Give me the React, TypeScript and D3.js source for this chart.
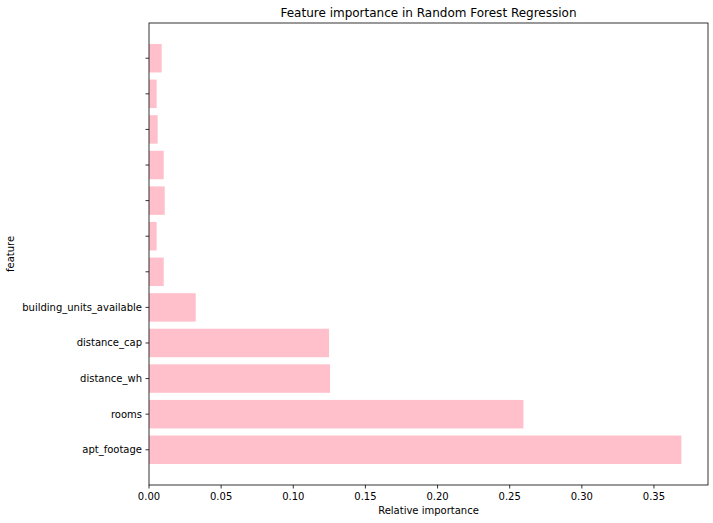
import React from "react";
import * as d3 from "d3";

const features: string[] = [
  "apt_footage",
  "rooms",
  "distance_wh",
  "distance_cap",
  "building_units_available",
  "",
  "",
  "",
  "",
  "",
  "",
  "",
];
const importances: number[] = [
  0.369, 0.2595, 0.1255, 0.1248, 0.0324, 0.0102, 0.0053, 0.0109, 0.0102, 0.006,
  0.0053, 0.0088,
];
const xTicks: number[] = [0, 0.05, 0.1, 0.15, 0.2, 0.25, 0.3, 0.35];
const titleText = "Feature importance in Random Forest Regression";
const xLabelText = "Relative importance";
const yLabelText = "feature";

const W = 713;
const H = 523;
const left = 149;
const right = 708;
const top = 23;
const bottom = 485;
const FONT = "'DejaVu Sans', sans-serif";

export default function App() {
  const n = features.length;
  const vmax = d3.max(importances) as number;
  const x = d3.scaleLinear().domain([0, vmax * 1.05]).range([left, right]);
  const ymin = -0.4;
  const ymax = n - 1 + 0.4;
  const pad = (ymax - ymin) * 0.05;
  const y = d3
    .scaleLinear()
    .domain([ymin - pad, ymax + pad])
    .range([bottom, top]);
  const barH = y(0) - y(0.8);

  return (
    <svg
      width={W}
      height={H}
      style={{ position: "absolute", left: 0, top: 0, display: "block", background: "#fff" }}
      fontFamily={FONT}
    >
      <rect x={0} y={0} width={W} height={H} fill="#fff" />
      {importances.map((v, i) => (
        <rect
          key={i}
          x={x(0)}
          y={y(i + 0.4)}
          width={x(v) - x(0)}
          height={barH}
          fill="#ffc0cb"
        />
      ))}
      {/* y ticks */}
      {features.map((f, i) => (
        <g key={"yt" + i}>
          <line
            x1={left - 3.5}
            x2={left}
            y1={y(i)}
            y2={y(i)}
            stroke="#000"
            strokeWidth={0.8}
          />
          <text
            x={left - 7}
            y={y(i)}
            textAnchor="end"
            dominantBaseline="central"
            fontSize={10}
            fill="#000"
          >
            {f}
          </text>
        </g>
      ))}
      {/* x ticks */}
      {xTicks.map((t) => (
        <g key={"xt" + t}>
          <line
            x1={x(t)}
            x2={x(t)}
            y1={bottom}
            y2={bottom + 3.5}
            stroke="#000"
            strokeWidth={0.8}
          />
          <text
            x={x(t)}
            y={bottom + 14.5}
            textAnchor="middle"
            fontSize={10}
            fill="#000"
          >
            {d3.format(".2f")(t)}
          </text>
        </g>
      ))}
      {/* spines */}
      <rect
        x={left}
        y={top}
        width={right - left}
        height={bottom - top}
        fill="none"
        stroke="#000"
        strokeWidth={0.8}
      />
      <text
        x={(left + right) / 2}
        y={top - 6}
        textAnchor="middle"
        fontSize={12}
        fill="#000"
      >
        {titleText}
      </text>
      <text
        x={(left + right) / 2}
        y={514}
        textAnchor="middle"
        fontSize={10}
        fill="#000"
      >
        {xLabelText}
      </text>
      <text
        transform={`translate(14, ${(top + bottom) / 2}) rotate(-90)`}
        textAnchor="middle"
        fontSize={10}
        fill="#000"
      >
        {yLabelText}
      </text>
    </svg>
  );
}
